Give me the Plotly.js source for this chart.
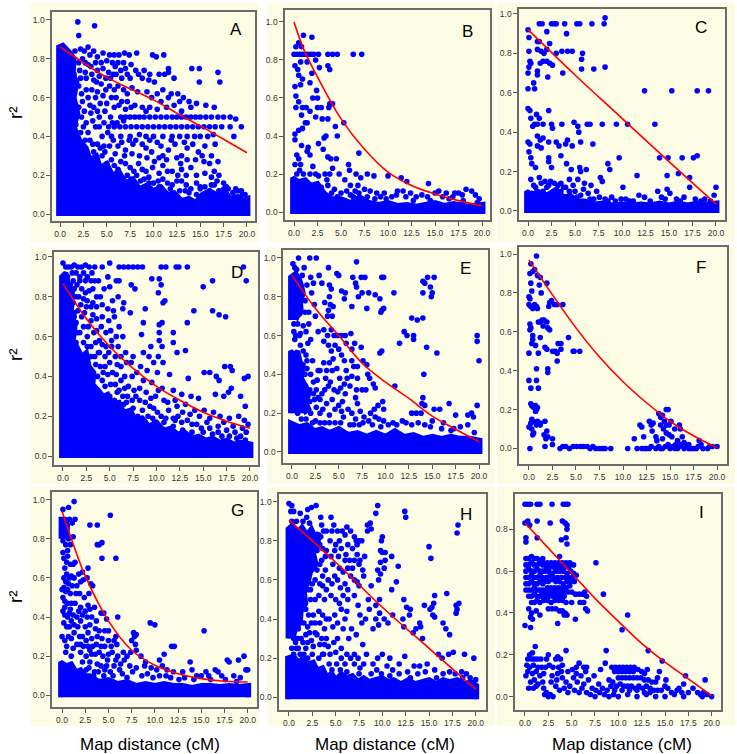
<!DOCTYPE html>
<html><head><meta charset="utf-8">
<script src="https://cdn.plot.ly/plotly-3.0.1.min.js"></script>
<style>html,body{margin:0;padding:0;background:#fff}#chart{width:737px;height:754px}</style>
</head><body><div id="chart"></div>
<script>
// ---------- labels / ticks ----------
const xTicks = [0, 2.5, 5, 7.5, 10, 12.5, 15, 17.5, 20];
const yTicks = [0, 0.2, 0.4, 0.6, 0.8, 1.0];
const yTicksI = [0, 0.2, 0.4, 0.6, 0.8];
const panelLetters = ['A','B','C','D','E','F','G','H','I'];
const xLabel = 'Map distance (cM)';
const yLabel = 'r²';

// ---------- fitted curves ----------
const A_fitX = [0,2.5,5,7.5,10,12.5,15,17.5,20];
const A_fitY = [0.862,0.78,0.704,0.645,0.588,0.52,0.454,0.385,0.316];
const B_fitX = [0,1,2.5,5,7.5,10,12.5,15,17.5,20];
const B_fitY = [1.0,0.86,0.71,0.49,0.33,0.21,0.14,0.095,0.06,0.033];
const C_fitX = [0,5,10,15,20];
const C_fitY = [0.92,0.69,0.47,0.25,0.035];
const D_fitX = [0,2.5,5,7.5,10,12.5,15,17.5,20];
const D_fitY = [0.866,0.69,0.55,0.44,0.35,0.28,0.22,0.175,0.14];
const E_fitX = [0,2.5,5,7.5,10,12.5,15,17.5,20];
const E_fitY = [0.91,0.74,0.6,0.457,0.36,0.276,0.185,0.117,0.052];
const F_fitX = [0,2.5,5,7.5,10,12.5,15,17.5,20];
const F_fitY = [0.97,0.79,0.62,0.47,0.343,0.235,0.14,0.065,0.003];
const G_fitX = [0,1,2.5,5,7.5,10,12.5,15,17.5,20];
const G_fitY = [0.94,0.8,0.61,0.38,0.23,0.153,0.11,0.085,0.072,0.068];
const H_fitX = [0,5,10,15,20];
const H_fitY = [0.905,0.69,0.46,0.25,0.04];
const I_fitX = [0,2.5,5,7.5,10,12.5,15,17.5,20];
const I_fitY = [0.83,0.71,0.59,0.47,0.36,0.255,0.165,0.085,0.005];

// ---------- saturated point regions (outline x,y pairs; null,null separates) ----------
const A_dense = [-0.15,-0.01,-0.15,0.86,0.3,0.87,0.7,0.85,1.1,0.83,1.5,0.8,1.4,0.72,1.8,0.68,1.5,0.6,1.9,0.52,1.5,0.45,2.1,0.38,2.8,0.34,3.2,0.28,3.9,0.3,4.3,0.24,5.0,0.26,5.6,0.2,6.3,0.22,7.0,0.16,7.8,0.18,8.5,0.13,9.3,0.15,10.0,0.12,10.8,0.14,11.5,0.1,12.2,0.11,13.0,0.07,13.8,0.08,14.5,0.06,15.2,0.1,16.0,0.12,16.8,0.1,17.5,0.13,18.2,0.08,19.0,0.09,19.6,0.07,20.1,0.08,20.1,-0.01];
const B_dense = [-0.15,-0.01,-0.15,0.18,0.5,0.16,1.2,0.17,1.8,0.14,2.5,0.15,3.2,0.1,4.0,0.07,5,0.07,6,0.05,7,0.08,8,0.05,9,0.04,10,0.05,11,0.035,12,0.04,13,0.03,14,0.04,15,0.05,16,0.035,17,0.045,18.5,0.03,20.1,0.04,20.1,-0.01];
const C_dense = [-0.15,-0.01,-0.15,0.1,0.5,0.08,1,0.1,2,0.08,3,0.11,3.8,0.07,4.5,0.08,5.2,0.05,6,0.05,7,0.035,8,0.04,9,0.03,10,0.035,11,0.03,12,0.035,13,0.03,14,0.04,15,0.03,16,0.04,17,0.03,18,0.04,19,0.035,20.1,0.04,20.1,-0.01];
const D_dense = [-0.15,-0.01,-0.15,0.9,0.3,0.92,0.6,0.86,1.0,0.82,0.9,0.72,1.3,0.66,1.1,0.58,1.6,0.54,2.0,0.5,2.5,0.52,2.8,0.45,3.3,0.42,3.2,0.36,3.8,0.33,4.3,0.3,4.8,0.31,5.3,0.26,6.0,0.27,6.5,0.22,7.2,0.23,7.8,0.18,8.5,0.19,9.2,0.15,10.0,0.17,10.8,0.13,11.5,0.14,12.3,0.11,13.0,0.12,13.8,0.09,14.5,0.1,15.3,0.08,16.0,0.09,16.8,0.07,17.5,0.08,18.3,0.06,19.0,0.07,20.1,0.06,20.1,-0.01];
const E_dense = [-0.15,-0.01,-0.15,0.15,0.8,0.13,1.6,0.14,2.4,0.11,3.2,0.12,4.0,0.1,5,0.12,6,0.09,7,0.1,8,0.08,9,0.1,10,0.08,11,0.11,12,0.08,13,0.09,14,0.07,15,0.08,16,0.07,17,0.08,18,0.07,19,0.07,20.1,0.06,20.1,-0.01,null,null,
  -0.15,0.68,-0.15,0.9,0.4,0.92,0.8,0.89,1.0,0.86,1.2,0.82,0.9,0.77,1.0,0.72,0.6,0.7,0.4,0.68,null,null,
  -0.15,0.2,-0.15,0.52,0.3,0.5,0.6,0.52,0.9,0.46,1.2,0.45,1.0,0.38,1.5,0.34,1.8,0.3,1.5,0.25,1.8,0.22,1.2,0.2];
const F_dense = [];
const G_dense = [-0.15,-0.01,-0.15,0.17,0.5,0.15,1,0.16,1.5,0.12,2,0.13,2.5,0.1,3,0.1,4,0.07,5,0.08,6,0.06,7,0.07,8,0.05,9,0.06,10,0.05,11,0.06,12,0.05,13,0.05,14,0.04,15,0.05,16,0.05,17,0.045,18,0.05,19,0.045,20.1,0.05,20.1,-0.01,null,null,
  -0.1,0.8,-0.1,0.9,0.3,0.9,0.6,0.87,0.5,0.8];
const H_dense = [-0.15,-0.01,-0.15,0.2,0.5,0.21,1.0,0.18,1.5,0.2,2.0,0.17,2.6,0.18,3.0,0.14,3.6,0.15,4.0,0.11,4.6,0.12,5.0,0.09,5.6,0.12,6.2,0.1,6.8,0.11,7.4,0.08,8.0,0.1,8.6,0.08,9.2,0.09,10.0,0.1,10.6,0.08,11.2,0.09,12.0,0.07,12.8,0.09,13.5,0.07,14.2,0.08,15.0,0.09,15.8,0.07,16.5,0.09,17.2,0.08,18.0,0.09,18.8,0.07,19.5,0.08,20.1,0.06,20.1,-0.01,null,null,
  -0.1,0.3,-0.1,0.86,0.4,0.88,0.9,0.84,1.4,0.87,1.9,0.83,2.4,0.86,2.8,0.82,3.2,0.84,3.1,0.77,2.6,0.74,2.9,0.68,2.3,0.64,2.0,0.58,1.6,0.55,1.8,0.48,1.3,0.44,1.2,0.38,0.7,0.35,0.4,0.3];
const I_dense = [];

// ---------- scattered points (x,y pairs) ----------
const A_pts = [1.9,0.99,2.0,0.92,3.7,0.97,
2.6,0.84,3.2,0.82,4.0,0.81,4.6,0.83,5.3,0.82,5.8,0.82,6.3,0.82,6.9,0.83,7.4,0.82,8.2,0.83,9.9,0.82,10.3,0.81,11.1,0.82,
3.3,0.76,4.0,0.74,4.6,0.75,5.2,0.73,5.9,0.76,6.5,0.74,7.0,0.75,8.1,0.74,9.0,0.74,11.6,0.75,11.6,0.73,14.1,0.75,14.9,0.75,16.9,0.73,
11.2,0.72,10.1,0.68,9.5,0.69,11.0,0.64,11.9,0.62,14.9,0.68,17.1,0.68,13.2,0.60,13.8,0.58,12.6,0.62,8.8,0.70,7.5,0.70,7.7,0.65,8.3,0.63,9.3,0.63,10.4,0.62,6.2,0.66,5.3,0.66,4.4,0.67,3.6,0.69,2.8,0.7,2.8,0.64,3.0,0.6,3.8,0.6,4.6,0.61,5.5,0.6,6.0,0.6,6.6,0.58,7.2,0.58,8.0,0.56,8.8,0.55,9.6,0.55,10.4,0.54,11.4,0.55,12.2,0.56,13.0,0.53,
6.5,0.5,7,0.5,7.5,0.5,8,0.5,8.5,0.5,9,0.5,9.6,0.5,10.2,0.5,10.8,0.5,11.4,0.5,12,0.5,12.5,0.5,13,0.5,13.5,0.5,14,0.5,14.5,0.5,15,0.5,15.6,0.5,16.2,0.5,16.9,0.5,17.5,0.5,18.2,0.5,18.8,0.49,
5.2,0.45,5.8,0.45,6.4,0.45,7,0.45,7.6,0.45,8.2,0.45,8.8,0.45,9.4,0.45,10,0.45,10.6,0.45,11.2,0.45,11.8,0.45,12.4,0.45,13,0.45,13.6,0.45,14.2,0.45,14.8,0.45,15.4,0.45,16,0.45,16.6,0.45,17.3,0.45,18.2,0.45,19.4,0.45,
4.5,0.4,5.5,0.4,6.5,0.4,7.5,0.4,8.5,0.41,9.2,0.4,10,0.4,11,0.4,12,0.4,12.8,0.4,13.6,0.4,14.4,0.4,15,0.4,15.8,0.4,16.4,0.41,18.6,0.4,
6.2,0.35,7.0,0.33,7.8,0.36,8.5,0.3,9.2,0.34,9.8,0.32,10.4,0.37,11,0.3,11.6,0.33,12.3,0.36,13,0.3,13.6,0.34,14.2,0.36,14.8,0.32,15.5,0.35,16.2,0.3,16.6,0.36,
6.5,0.27,7.5,0.24,8.4,0.26,9.2,0.22,10.1,0.27,11,0.25,12,0.22,12.9,0.26,14,0.24,15.4,0.27,16.5,0.22,16.9,0.27,5.5,0.28,4.5,0.3,13.5,0.2,17.0,0.2,
5.5,0.17,6.8,0.18,8,0.15,9,0.18,10,0.16,11,0.18,12,0.15,13,0.17,14,0.13,15.5,0.14,16.5,0.15,17.5,0.16,18.5,0.11,19.5,0.1,19,0.12,16,0.12,17,0.12,
1.5,0.72,2,0.66,1.8,0.55,2.3,0.5,2.8,0.47,3.3,0.52,3.8,0.45,2.2,0.42,1.8,0.38,2.7,0.38,3.5,0.36,4.2,0.5,4.8,0.53,5.4,0.5,4.3,0.57,3.2,0.56,5.8,0.55,2.0,0.78,2.7,0.78,1.5,0.62,3.9,0.68,4.9,0.7,5.7,0.72,6.6,0.7,6.2,0.78,1.2,0.5,1.3,0.43,2.4,0.58,5.1,0.42,6.1,0.47,3,0.3,4,0.27,1.7,0.25,2.6,0.22,3.5,0.2,4.8,0.23,5.3,0.35,4.3,0.34,1.4,0.8,1.6,0.84,2.2,0.7,1.7,0.46,2.9,0.25,3.8,0.24,5.0,0.26,6.2,0.23,7.2,0.2,8.2,0.2,9.5,0.16,10.6,0.14,11.8,0.13,13.4,0.12,15,0.13,16.2,0.15,18,0.13,17.8,0.1,
2.2,0.85,3.0,0.86,3.6,0.84,2.4,0.8,3.0,0.77,3.8,0.78,4.4,0.78,5.0,0.79,5.6,0.78,6.8,0.78,7.6,0.77,2.1,0.74,2.7,0.73,3.4,0.72,4.2,0.71,5.4,0.7,6.0,0.72,7.2,0.72,8.4,0.72,9.6,0.72,10.6,0.72,12.2,0.7,2.3,0.62,3.4,0.64,4.0,0.63,4.9,0.64,5.8,0.64,6.8,0.64,7.2,0.62,9.8,0.6,10.8,0.58,11.6,0.6,12.8,0.58,14.0,0.55,14.6,0.57,15.6,0.56,16.5,0.55,2.0,0.55,2.6,0.53,3.6,0.55,4.0,0.53,5.0,0.57,6.3,0.56,7.0,0.54,7.6,0.55,9.2,0.53,2.5,0.45,3.0,0.42,3.5,0.48,4.2,0.45,4.7,0.47,5.6,0.47,6.8,0.48,3.2,0.38,4.0,0.36,4.7,0.35,5.7,0.38,6.6,0.37,7.4,0.38,8.1,0.38,8.8,0.36,9.6,0.38,10.8,0.35,11.9,0.38,13.3,0.37,2.3,0.3,3.6,0.32,4.8,0.32,5.9,0.31,6.9,0.3,7.7,0.31,9.3,0.29,10.6,0.29,11.4,0.28,12.5,0.29,13.6,0.28,14.5,0.28,15.2,0.3,16.0,0.26,5.8,0.25,7.0,0.26,7.9,0.22,8.8,0.23,9.9,0.24,10.6,0.21,11.5,0.22,12.6,0.2,13.0,0.23,14.6,0.2,15.5,0.21,16.2,0.19,5.2,0.2,6.4,0.19,7.6,0.18,8.6,0.17,9.5,0.19,10.5,0.17,11.5,0.16,12.5,0.17,13.5,0.15,14.6,0.16,15.0,0.14,16.8,0.17,17.8,0.14,18.8,0.13,19.4,0.12,19.8,0.1,12.8,0.12,13.8,0.11,14.6,0.1,15.6,0.07];

const B_pts = [0.0,0.83,0.3,0.83,0.6,0.83,0.9,0.83,1.2,0.83,1.5,0.83,1.8,0.83,2.1,0.83,2.6,0.83,3.6,0.83,4.1,0.83,4.6,0.83,6.3,0.83,7.2,0.83,
0.2,0.87,0.5,0.89,0.8,0.87,1.0,0.93,1.9,0.92,0.1,0.77,0.4,0.75,0.7,0.79,1.4,0.79,2.3,0.8,2.7,0.76,3.6,0.77,3.8,0.75,0.5,0.72,0.9,0.7,0.7,0.67,1.9,0.73,1.7,0.68,0.1,0.66,2.4,0.64,2.5,0.6,0.2,0.61,0.2,0.55,0.5,0.58,0.9,0.55,1.3,0.55,1.7,0.53,2.0,0.6,2.5,0.55,2.9,0.55,2.3,0.5,3.8,0.57,4.1,0.57,3.7,0.55,0.8,0.51,1.4,0.47,0.9,0.44,0.5,0.43,0.1,0.38,0.1,0.41,1.2,0.47,3.0,0.49,3.6,0.49,4.4,0.45,4.6,0.4,3.4,0.4,3.2,0.39,2.6,0.36,3.1,0.33,5.3,0.47,0.8,0.35,1.5,0.34,1.7,0.3,0.3,0.3,0.5,0.28,0.7,0.25,0.1,0.25,2.0,0.24,3.6,0.29,3.9,0.28,4.5,0.28,6.9,0.31,1.4,0.32,0.6,0.22,2.3,0.2,1.7,0.2,3.3,0.2,4.1,0.23,4.8,0.2,3.8,0.2,5.8,0.25,5.9,0.22,6.6,0.2,7.1,0.18,7.8,0.2,8.5,0.19,10.0,0.19,11.4,0.18,12.0,0.16,14.3,0.15,5.4,0.17,6.0,0.14,6.8,0.14,7.5,0.12,4.3,0.12,5.0,0.1,5.6,0.11,8.1,0.11,9.2,0.08,11.0,0.11,11.6,0.11,10.9,0.09,13.0,0.08,15.0,0.1,15.4,0.11,16.2,0.1,17.1,0.1,17.5,0.1,18.3,0.12,18.9,0.11,19.3,0.09,19.7,0.07,16.5,0.07,18,0.06,12.7,0.06,14.5,0.06,9.8,0.07,8.6,0.07,3.6,0.14,2.9,0.13,6.3,0.08,7.0,0.07,4.0,0.1,3.5,0.17,2.6,0.19,6.5,0.11,
2.8,0.1,3.2,0.08,4.6,0.08,5.4,0.06,6.0,0.09,6.9,0.1,7.8,0.08,8.8,0.1,9.6,0.1,10.4,0.08,11.9,0.08,12.4,0.1,13.6,0.09,14.2,0.08,15.8,0.08,16.9,0.08,17.9,0.09,19.5,0.05,0.3,0.2,1.0,0.2,0.4,0.12,1.5,0.14];

const C_pts = [1.2,0.95,1.5,0.95,2.5,0.95,2.8,0.95,3.0,0.95,3.9,0.95,5.2,0.95,5.5,0.95,6.8,0.95,8.1,0.95,8.2,0.98,
0.0,0.92,0.1,0.88,2.0,0.91,4.1,0.9,1.0,0.86,1.2,0.86,2.3,0.85,0.1,0.81,1.0,0.82,1.4,0.81,1.7,0.8,2.0,0.82,3.0,0.8,3.6,0.81,4.2,0.81,4.7,0.81,5.8,0.8,5.7,0.77,0.2,0.76,0.3,0.75,0.1,0.73,1.3,0.75,1.6,0.76,2.0,0.76,2.3,0.75,2.6,0.74,0.0,0.7,1.0,0.71,1.0,0.69,2.1,0.68,3.7,0.7,5.7,0.72,7.0,0.72,8.2,0.73,0.6,0.65,0.7,0.62,0.0,0.62,0.0,0.52,0.2,0.51,2.2,0.51,0.9,0.49,1.2,0.47,0.3,0.47,0.5,0.43,0.7,0.44,1.0,0.44,1.6,0.44,2.5,0.44,3.6,0.44,4.9,0.45,5.3,0.43,6.3,0.44,6.6,0.44,7.9,0.44,9.4,0.44,10.6,0.44,13.5,0.44,12.4,0.61,15.3,0.61,18.0,0.61,19.2,0.61,2.6,0.42,5.4,0.4,0.0,0.35,0.2,0.34,1.0,0.38,1.3,0.36,1.6,0.37,1.0,0.33,1.4,0.32,2.2,0.35,3.0,0.35,3.3,0.33,4.0,0.34,4.2,0.36,4.7,0.33,5.6,0.35,6.9,0.34,0.1,0.3,0.3,0.27,0.4,0.24,2.2,0.27,2.2,0.25,2.5,0.22,3.5,0.28,4.1,0.24,4.6,0.21,5.5,0.22,5.6,0.2,6.2,0.21,8.5,0.24,8.7,0.21,9.7,0.27,14.0,0.27,14.9,0.27,16.4,0.27,17.6,0.27,18.0,0.28,11.6,0.18,14.8,0.18,16.0,0.19,17.2,0.17,0.8,0.22,1.2,0.17,0.3,0.16,1.8,0.15,2.4,0.15,2.8,0.14,3.5,0.14,4.4,0.16,5.3,0.16,6.7,0.13,7.7,0.17,7.9,0.15,5.9,0.11,6.4,0.09,7.3,0.1,8.9,0.07,9.9,0.06,10.8,0.05,10.1,0.12,11.8,0.08,12.4,0.07,13.8,0.1,14.2,0.07,14.8,0.11,15.1,0.09,15.8,0.06,16.6,0.07,17.2,0.12,18.4,0.05,19.8,0.08,20.0,0.12,3.2,0.13,4.0,0.12,2.0,0.12,0.6,0.13,5.0,0.1,7.0,0.06,8.2,0.06,
0.4,0.09,1.6,0.1,2.6,0.09,3.5,0.1,4.4,0.1,5.2,0.07,5.6,0.08,6.6,0.06,7.6,0.07,8.5,0.05,9.3,0.05,10.4,0.06,11.2,0.05,13.0,0.05,14.6,0.06,16.2,0.05,17.8,0.06,18.8,0.06,19.4,0.05,0.8,0.12,1.4,0.14,2.2,0.13,3.8,0.12,4.8,0.13,6.0,0.14];

const D_pts = [0.0,0.97,0.3,0.95,0.6,0.95,0.9,0.95,1.2,0.96,1.6,0.95,2.0,0.95,2.4,0.96,2.8,0.95,3.4,0.95,4.2,0.95,5.0,0.97,6.0,0.95,6.5,0.95,7.0,0.95,7.5,0.95,8.0,0.95,8.5,0.95,10.5,0.95,11.0,0.95,12.1,0.95,12.4,0.95,13.3,0.95,19.3,0.95,
0.5,0.9,1.1,0.88,2.4,0.88,3.0,0.88,3.4,0.88,3.8,0.88,4.8,0.9,5.7,0.88,6.0,0.88,9.5,0.89,10.3,0.89,10.5,0.86,15.0,0.85,16.0,0.88,19.6,0.88,1.5,0.86,2.0,0.84,2.8,0.83,4.0,0.8,7.3,0.86,7.7,0.84,10.2,0.82,10.7,0.77,10.9,0.78,1.4,0.8,2.2,0.79,3.2,0.77,6.5,0.77,5.3,0.78,4.8,0.74,2.5,0.75,3.0,0.75,1.6,0.73,2.0,0.7,6.4,0.74,5.4,0.73,5.5,0.7,7.2,0.72,8.8,0.74,14.0,0.73,16.0,0.73,16.7,0.71,17.4,0.7,3.6,0.69,1.4,0.67,2.7,0.65,4.9,0.68,6.0,0.65,8.6,0.67,10.3,0.66,10.6,0.67,13.3,0.67,3.6,0.63,4.6,0.62,5.7,0.6,2.6,0.6,1.8,0.62,8.4,0.61,10.3,0.62,11.8,0.62,3.9,0.58,4.6,0.55,5.9,0.55,6.7,0.52,7.5,0.5,8.6,0.52,9.4,0.55,10.3,0.58,10.6,0.55,13.1,0.53,11.8,0.57,12.2,0.52,9.2,0.5,10.2,0.5,10.7,0.47,9.7,0.47,7.3,0.47,8.3,0.45,6.2,0.45,5.0,0.47,4.0,0.45,5.3,0.42,6.6,0.4,7.9,0.42,9.0,0.43,10.1,0.42,11.4,0.41,13.4,0.39,15.1,0.42,15.7,0.42,16.4,0.4,16.7,0.38,17.3,0.45,17.9,0.45,18.1,0.43,19.4,0.39,19.8,0.4,4.2,0.38,5.6,0.36,7.0,0.35,8.2,0.34,9.5,0.37,10.6,0.34,11.8,0.33,12.7,0.31,13.7,0.3,14.5,0.29,16.3,0.31,17.2,0.3,17.7,0.32,18.0,0.34,19.0,0.3,19.5,0.25,3.7,0.33,5.0,0.3,6.4,0.3,7.4,0.28,8.8,0.27,9.9,0.3,11.2,0.27,12.2,0.25,13.1,0.26,14.1,0.23,15.1,0.23,16.1,0.22,16.8,0.2,17.8,0.19,18.8,0.2,19.4,0.18,6.9,0.22,8.0,0.2,9.1,0.2,10.1,0.22,11.0,0.19,12.3,0.2,13.3,0.18,14.3,0.16,15.4,0.17,16.6,0.15,17.5,0.13,18.4,0.12,19.6,0.12,8.5,0.15,9.8,0.17,10.8,0.13,11.8,0.15,12.8,0.13,13.8,0.12,15.0,0.12,16.0,0.11,17.0,0.1,19.0,0.1,3.0,0.55,2.2,0.57,0.8,0.75,1.0,0.6,4.5,0.5,3.4,0.5,2.4,0.47,1.2,0.72,0.9,0.82,1.8,0.9,4.3,0.42,5.8,0.32,6.8,0.27,3.9,0.52,5.2,0.55,6.2,0.5,7.8,0.3,9.3,0.25,10.5,0.2,12,0.18,
1.0,0.92,1.4,0.92,1.8,0.88,2.2,0.92,2.6,0.9,3.1,0.92,0.8,0.86,1.2,0.84,1.7,0.8,2.4,0.82,3.2,0.84,3.6,0.8,4.4,0.84,5.0,0.85,1.1,0.77,1.9,0.76,2.6,0.78,3.6,0.75,4.2,0.76,5.9,0.8,1.2,0.7,2.3,0.72,3.2,0.71,4.2,0.7,1.5,0.62,2.2,0.65,3.0,0.68,3.3,0.62,4.1,0.65,5.1,0.63,1.4,0.57,2.6,0.55,3.5,0.57,4.2,0.56,5.2,0.58,6.4,0.6,1.8,0.47,3.0,0.5,3.8,0.52,4.9,0.52,5.6,0.5,3.5,0.46,4.5,0.45,5.8,0.46,6.8,0.47,3.7,0.4,4.8,0.41,5.7,0.41,6.2,0.38,7.4,0.4,8.6,0.38,4.5,0.35,5.1,0.36,6.0,0.33,6.6,0.34,7.6,0.33,8.9,0.32,10.2,0.33,5.5,0.28,6.9,0.3,8.2,0.28,9.4,0.29,10.8,0.28,12.0,0.28,6.5,0.26,7.5,0.24,8.5,0.23,9.7,0.24,11.3,0.23,12.8,0.22,13.6,0.21,7.3,0.2,8.4,0.19,9.6,0.19,10.8,0.17,11.8,0.19,12.7,0.17,13.8,0.16,14.8,0.14,15.7,0.14,16.6,0.12,17.8,0.1,18.6,0.09,19.5,0.08,14.6,0.2,15.7,0.19,17.2,0.17,18.2,0.15,19.2,0.14,19.8,0.16];

const E_pts = [0.1,0.97,0.7,1.0,1.9,1.0,2.6,1.0,6.9,0.98,3.9,0.95,1.1,0.91,2.9,0.91,4.8,0.92,5.0,0.91,6.5,0.9,7.4,0.9,7.8,0.9,9.6,0.9,9.8,0.9,14.0,0.88,14.5,0.9,14.2,0.87,15.2,0.9,14.8,0.85,14.0,0.82,14.9,0.8,15.0,0.82,2.3,0.87,3.2,0.87,4.0,0.86,6.8,0.87,6.9,0.85,2.1,0.82,4.2,0.84,5.3,0.83,5.7,0.82,7.5,0.82,8.2,0.82,8.9,0.81,10.9,0.82,7.1,0.8,4.0,0.8,5.6,0.79,9.4,0.79,1.4,0.78,2.4,0.76,3.5,0.77,4.1,0.76,4.4,0.75,3.9,0.73,3.8,0.7,4.3,0.7,1.8,0.72,2.5,0.7,6.4,0.75,8.0,0.74,9.6,0.73,9.8,0.74,9.5,0.72,1.2,0.65,1.8,0.66,3.4,0.63,4.5,0.6,4.9,0.6,5.3,0.6,5.7,0.6,6.3,0.61,0.9,0.61,0.3,0.58,1.7,0.56,3.9,0.55,4.6,0.55,5.0,0.53,4.2,0.52,5.8,0.56,6.7,0.56,6.4,0.53,5.3,0.5,4.4,0.48,4.0,0.46,5.6,0.47,6.4,0.47,7.4,0.54,7.6,0.47,8.0,0.45,9.4,0.51,9.6,0.52,11.5,0.56,12.0,0.62,12.3,0.6,13.0,0.6,13.0,0.58,12.8,0.69,13.4,0.68,14.0,0.69,14.4,0.54,15.5,0.51,19.8,0.6,19.8,0.57,20.0,0.47,2.2,0.47,3.0,0.42,1.6,0.43,2.7,0.37,3.6,0.38,4.1,0.36,5.1,0.38,5.9,0.38,6.4,0.39,7.0,0.38,8.1,0.4,8.3,0.38,8.7,0.35,8.9,0.33,11.0,0.34,6.2,0.34,3.9,0.34,2.6,0.32,3.2,0.3,4.9,0.31,5.7,0.3,6.9,0.32,7.5,0.32,7.9,0.32,6.8,0.28,5.4,0.26,4.3,0.27,3.0,0.27,2.3,0.3,2.6,0.23,3.7,0.25,5.0,0.24,6.0,0.22,7.0,0.25,8.8,0.22,9.2,0.24,9.8,0.22,9.7,0.26,14.0,0.28,13.9,0.25,14.2,0.24,14.1,0.4,8.4,0.2,3.0,0.2,4.0,0.19,5.5,0.18,6.8,0.17,7.7,0.18,8.9,0.18,9.3,0.17,12.8,0.2,13.3,0.2,13.8,0.2,15.2,0.22,15.8,0.22,16.8,0.25,17.5,0.19,18.8,0.19,19.2,0.2,19.4,0.18,19.8,0.24,15,0.16,16.2,0.15,17.3,0.12,18,0.13,18.8,0.14,19.5,0.1,14.2,0.14,12.2,0.15,11.2,0.14,10.3,0.14,9.5,0.13,8.6,0.14,0.9,0.55,0.2,0.62,1.5,0.5,1.0,0.38,2.0,0.4,1.4,0.3,1.9,0.26,0.6,0.2,1.0,0.17,2.5,0.16,3.5,0.15,4.6,0.15,6.2,0.14,7.2,0.14,1.4,0.72,0.6,0.66,0.2,0.66,
1.4,0.4,2.3,0.36,2.8,0.42,3.4,0.46,1.9,0.32,2.8,0.28,3.5,0.32,4.5,0.32,5.2,0.33,5.6,0.35,2.0,0.2,2.4,0.27,3.3,0.22,4.6,0.22,5.3,0.21,6.4,0.2,7.3,0.21,1.5,0.17,2.2,0.15,3.0,0.15,4.0,0.15,5.2,0.15,6.6,0.14,7.6,0.15,8.2,0.16,9.8,0.16,10.8,0.15,11.8,0.16,12.8,0.14,13.5,0.15,14.8,0.13,16.0,0.12,17.0,0.11,2.0,0.58,2.8,0.62,1.5,0.62,0.3,0.95,0.5,0.94,1.3,0.95,1.6,0.86,2.0,0.9,1.2,0.52,1.6,0.47,0.8,0.6,0.4,0.6,3.8,0.6,4.2,0.63,3.4,0.57,6.6,0.44,7.0,0.44,5.8,0.42,4.8,0.43,4.3,0.42,3.7,0.42];

const F_pts = [0.8,0.99,0.1,0.9,0.2,0.95,0.4,0.91,0.6,0.92,0.9,0.89,1.2,0.88,1.1,0.84,1.3,0.8,1.9,0.85,0.0,0.78,0.1,0.77,0.2,0.85,0.3,0.81,0.0,0.74,0.2,0.73,0.4,0.72,0.6,0.74,0.8,0.73,0.9,0.72,2.2,0.75,2.4,0.76,2.7,0.74,3.0,0.74,3.6,0.74,2.1,0.73,0.1,0.64,0.2,0.62,0.4,0.58,0.4,0.56,0.3,0.54,0.7,0.53,0.1,0.61,1.0,0.65,1.2,0.65,1.4,0.66,1.6,0.66,1.9,0.65,1.5,0.63,2.0,0.62,2.2,0.61,1.2,0.57,1.7,0.52,1.9,0.51,2.5,0.5,2.8,0.5,3.0,0.49,3.1,0.54,3.4,0.54,3.4,0.51,4.2,0.57,4.7,0.5,4.8,0.5,5.4,0.5,3.0,0.45,1.0,0.49,0.0,0.49,0.8,0.41,2.0,0.41,2.0,0.39,0.0,0.35,0.8,0.35,0.2,0.31,1.0,0.31,0.2,0.23,0.3,0.22,0.5,0.21,0.7,0.22,0.8,0.2,0.9,0.21,0.7,0.19,0.3,0.15,0.4,0.14,0.2,0.13,0.0,0.11,0.3,0.1,0.5,0.08,0.4,0.07,0.8,0.12,0.9,0.14,1.2,0.13,1.2,0.12,1.7,0.14,1.9,0.09,1.6,0.07,1.8,0.05,2.0,0.06,2.5,0.05,2.5,0.02,1.7,0.01,0.1,0.0,
3.3,0.0,3.6,0.01,3.9,0.01,4.3,0.0,4.7,0.01,5.1,0.01,5.5,0.01,5.8,0.01,6.2,0.01,6.5,0.0,6.8,0.01,7.1,0.0,7.5,0.0,7.8,0.0,8.1,0.0,8.7,0.0,10.5,0.0,
11.2,0.05,11.8,0.12,12.0,0.11,12.2,0.06,12.8,0.14,13.0,0.12,13.2,0.13,13.5,0.06,13.1,0.09,13.8,0.18,14.0,0.16,14.2,0.17,14.4,0.14,14.6,0.2,14.8,0.2,14.0,0.12,14.3,0.1,14.6,0.12,14.9,0.12,15.1,0.14,14.6,0.08,14.9,0.07,15.2,0.06,14.2,0.05,13.6,0.04,15.5,0.1,15.8,0.04,16.0,0.12,16.1,0.1,16.3,0.06,16.5,0.03,17.0,0.02,18.1,0.04,
11.5,0.0,12.0,0.0,12.5,0.0,13.0,0.01,13.5,0.0,14.0,0.0,14.5,0.01,15.0,0.0,15.5,0.0,16.0,0.01,16.5,0.0,17.0,0.0,17.5,0.0,18.0,0.01,18.5,0.0,19.0,0.0,19.5,0.01,20.0,0.01,12.3,0.0,13.8,0.01,15.3,0.01,16.8,0.01,18.3,0.02,19.2,0.01,12.8,0.0,14.2,0.0,15.8,0.0,17.2,0.0,16.2,0.02,15.6,0.02,14.8,0.02,17.8,0.0];

const G_pts = [0.1,0.95,0.7,0.96,1.3,0.99,5.2,0.92,1.1,0.88,1.4,0.9,3.0,0.87,3.8,0.87,1.2,0.81,3.8,0.77,4.0,0.77,4.3,0.78,4.3,0.7,5.8,0.7,0.6,0.74,0.1,0.73,0.2,0.7,0.5,0.68,0.9,0.67,1.2,0.67,1.4,0.68,0.8,0.6,1.0,0.61,2.2,0.63,2.8,0.65,2.7,0.6,2.0,0.58,2.3,0.59,3.1,0.57,3.3,0.56,1.1,0.56,1.6,0.56,0.0,0.54,0.2,0.55,0.4,0.53,0.6,0.54,0.9,0.52,1.5,0.52,1.9,0.52,2.4,0.5,2.9,0.52,0.1,0.5,0.3,0.48,0.6,0.47,1.0,0.47,1.4,0.47,2.0,0.45,2.8,0.46,3.0,0.44,3.5,0.45,0.1,0.43,0.3,0.41,0.6,0.4,0.8,0.42,1.2,0.41,1.6,0.4,2.2,0.41,2.7,0.4,3.2,0.4,3.7,0.38,4.2,0.42,4.5,0.42,4.8,0.39,6.0,0.4,9.5,0.37,10.0,0.36,15.3,0.33,0.2,0.37,0.5,0.35,0.8,0.35,1.3,0.36,1.7,0.35,2.5,0.35,3.0,0.36,3.6,0.34,4.0,0.33,4.6,0.33,5.0,0.33,0.0,0.3,0.3,0.28,0.7,0.3,1.0,0.29,2.2,0.3,2.6,0.28,3.2,0.29,3.8,0.3,4.3,0.29,5.0,0.28,5.6,0.28,5.8,0.3,1.6,0.26,2.3,0.25,2.8,0.25,3.3,0.25,3.7,0.26,4.6,0.25,5.3,0.25,5.9,0.26,7.7,0.32,7.8,0.3,8.0,0.31,7.5,0.28,7.9,0.26,7.4,0.22,8.0,0.23,2.0,0.22,2.6,0.2,3.2,0.21,3.6,0.21,4.0,0.22,4.4,0.2,5.0,0.21,5.4,0.22,6.0,0.2,6.7,0.18,7.0,0.2,8.5,0.2,9.0,0.17,10.5,0.18,11.0,0.21,11.8,0.25,12.1,0.25,2.2,0.17,3.0,0.17,3.8,0.16,4.2,0.15,4.8,0.15,5.6,0.15,6.3,0.16,7.3,0.15,8.0,0.14,8.9,0.15,9.6,0.14,10.2,0.13,10.8,0.15,11.3,0.13,12.0,0.12,13.0,0.12,13.8,0.17,14.0,0.13,15.0,0.1,15.5,0.12,16.5,0.13,16.8,0.12,17.8,0.18,18.0,0.17,19.0,0.18,19.6,0.2,19.8,0.13,20.0,0.13,18.5,0.1,17.2,0.1,14.5,0.1,13.2,0.09,11.7,0.09,10.5,0.1,9.2,0.11,6.5,0.11,5.5,0.1,7.0,0.09,16,0.08,19.2,0.09,0.3,0.85,0.5,0.82,0.2,0.83,0.1,0.79,0.4,0.77,0.8,0.9,1.5,0.12,2.6,0.13,3.5,0.12,4.5,0.1,1.0,0.2,0.4,0.22,0.2,0.6,0.5,0.62,
0.4,0.58,0.7,0.57,1.3,0.6,1.8,0.62,0.3,0.45,0.9,0.44,1.8,0.43,2.5,0.43,1.0,0.38,2.0,0.38,2.8,0.32,1.9,0.3,1.3,0.32,0.5,0.25,1.2,0.24,2.0,0.26,3.0,0.23,4.2,0.25,4.9,0.18,5.8,0.18,6.6,0.22,6.2,0.13,7.6,0.12,8.6,0.1,9.8,0.09,11.2,0.1,12.6,0.08,14.2,0.08,15.8,0.1,17.6,0.08,18.8,0.07,1.0,0.12,0.5,0.15,2.9,0.14,3.9,0.12,4.6,0.13,5.2,0.12,3.4,0.1,0.3,0.65,0.7,0.8,0.9,0.77,0.6,0.71];

const H_pts = [0.0,0.99,0.3,0.98,0.2,0.95,0.5,0.95,1.2,0.94,1.9,0.92,2.0,0.96,2.4,0.97,2.9,0.98,3.4,0.92,4.5,0.92,3.5,0.88,2.2,0.89,4.0,0.85,5.2,0.85,5.7,0.85,6.0,0.83,6.6,0.85,7.2,0.8,7.5,0.8,7.8,0.8,8.4,0.88,8.7,0.89,8.8,0.86,9.3,0.94,9.5,0.98,10.0,0.82,9.9,0.8,8.4,0.85,12.4,0.95,12.5,0.92,18.1,0.88,18.0,0.84,4.4,0.8,5.0,0.78,5.6,0.76,6.1,0.73,6.8,0.76,7.3,0.73,6.5,0.7,7.0,0.7,7.6,0.7,4.0,0.75,3.5,0.7,3.9,0.72,4.7,0.68,5.4,0.66,5.8,0.64,6.3,0.66,7.5,0.68,7.9,0.65,9.8,0.75,10.0,0.74,10.3,0.74,9.8,0.69,10.3,0.7,9.5,0.65,9.8,0.63,10.2,0.66,11.0,0.72,11.7,0.67,15.0,0.77,15.2,0.71,3.0,0.65,3.6,0.62,4.2,0.6,4.6,0.58,5.2,0.6,6.0,0.58,6.6,0.62,7.3,0.59,7.5,0.57,8.8,0.57,9.6,0.6,3.6,0.57,4.0,0.55,3.2,0.52,4.5,0.52,5.4,0.48,6.3,0.5,7.0,0.52,7.4,0.47,5.6,0.45,6.2,0.44,4.9,0.42,4.3,0.4,4.0,0.4,3.6,0.42,2.6,0.42,2.8,0.38,2.0,0.36,1.6,0.38,1.0,0.35,0.3,0.35,2.2,0.33,3.0,0.32,3.5,0.3,4.0,0.3,2.4,0.29,1.5,0.28,0.7,0.28,0.3,0.25,1.0,0.25,1.8,0.25,2.6,0.26,3.3,0.27,3.8,0.27,4.4,0.22,5.0,0.23,5.6,0.2,6.2,0.22,6.6,0.2,7.0,0.22,7.4,0.2,5.6,0.25,6.4,0.3,6.7,0.35,7.6,0.42,8.2,0.4,9.0,0.35,9.3,0.4,9.6,0.37,9.7,0.43,9.3,0.47,9.7,0.5,10.2,0.4,10.6,0.38,11.1,0.42,11.5,0.59,11.0,0.55,12.3,0.5,12.6,0.46,12.2,0.4,12.9,0.42,13.0,0.45,12.3,0.36,13.3,0.33,13.6,0.35,14.0,0.38,14.1,0.36,14.5,0.47,15.1,0.45,15.3,0.46,15.6,0.52,15.5,0.48,15.4,0.42,15.6,0.41,16.5,0.38,16.8,0.35,17.2,0.32,16.9,0.53,17.9,0.47,18.0,0.45,18.2,0.48,17.9,0.43,14.3,0.3,16.0,0.22,16.4,0.2,17.1,0.22,17.6,0.23,18.8,0.22,19.8,0.2,10.0,0.22,9.5,0.2,10.8,0.2,12.4,0.21,11.8,0.17,14.0,0.16,14.8,0.17,13.4,0.16,8.0,0.17,7.0,0.17,8.8,0.12,9.4,0.14,11.1,0.14,12.7,0.13,16.5,0.12,17.2,0.13,18.5,0.13,19.0,0.12,19.4,0.1,20.0,0.09,13.0,0.1,15.8,0.1,4.6,0.14,5.5,0.14,6.2,0.13,7.5,0.12,3.2,0.2,2.5,0.22,0.5,0.3,1.8,0.45,2.3,0.5,2.5,0.58,1.2,0.55,3.0,0.75,2.6,0.7,3.4,0.82,1.3,0.66,0.9,0.48,1.6,0.6,2.0,0.55,3.8,0.35,4.8,0.28,2.0,0.2,1.2,0.22,4.3,0.17,3.6,0.22,
0.3,0.9,0.8,0.9,1.5,0.9,3.7,0.85,3.3,0.78,3.6,0.76,4.5,0.72,3.3,0.68,3.9,0.65,2.8,0.6,3.3,0.58,2.3,0.55,2.8,0.5,3.8,0.5,2.1,0.42,3.2,0.44,2.4,0.38,3.3,0.38,1.8,0.32,2.8,0.33,0.9,0.3,1.3,0.3,2.0,0.28,1.6,0.22,0.5,0.22,0.8,0.25,3.7,0.22,4.2,0.26,5.2,0.3,5.8,0.35,5.2,0.38,4.7,0.36,6.0,0.4,5.0,0.5,5.8,0.52,5.5,0.56,6.3,0.55,7.0,0.6,8.0,0.62,6.8,0.66,4.9,0.62,6.0,0.7,5.3,0.72,4.9,0.75,6.3,0.78,7.0,0.82,5.4,0.8,4.6,0.85,4.8,0.88,6.2,0.87,7.3,0.78,8.1,0.72,8.5,0.5,8.6,0.45,7.8,0.38,7.2,0.32,7.9,0.27,8.3,0.22,6.0,0.17,5.1,0.17,7.6,0.15,9.0,0.17,10.5,0.16,11.8,0.12,13.8,0.12,14.6,0.13,15.6,0.14,17.8,0.12,18.6,0.1,9.9,0.12,10.8,0.11];

const I_pts = [0.0,0.92,0.3,0.92,0.6,0.92,1.3,0.92,1.6,0.92,2.9,0.92,4.1,0.92,4.4,0.92,4.6,0.92,
0.0,0.83,0.3,0.84,0.5,0.82,1.3,0.84,2.7,0.83,4.0,0.84,4.3,0.83,4.5,0.82,4.5,0.8,0.1,0.76,0.1,0.74,1.3,0.76,3.9,0.75,4.4,0.76,4.5,0.73,3.7,0.67,
0.1,0.66,0.4,0.66,0.7,0.67,1.0,0.66,1.3,0.66,1.6,0.65,1.9,0.66,0.1,0.63,0.4,0.63,0.7,0.64,1.0,0.63,1.3,0.63,1.6,0.64,1.9,0.63,0.1,0.6,0.4,0.61,0.7,0.6,1.0,0.6,1.3,0.61,1.6,0.6,1.9,0.6,0.1,0.57,0.4,0.57,0.7,0.58,1.0,0.57,1.3,0.57,1.6,0.58,1.9,0.57,0.1,0.54,0.4,0.54,0.7,0.55,1.0,0.54,1.3,0.54,1.6,0.55,1.9,0.54,0.1,0.51,0.4,0.51,0.7,0.51,1.0,0.52,1.3,0.51,1.6,0.51,1.9,0.51,0.4,0.48,0.7,0.48,1.0,0.49,1.3,0.48,1.6,0.48,1.9,0.48,0.7,0.45,1.0,0.45,1.3,0.46,1.6,0.45,
2.0,0.64,2.4,0.64,2.8,0.64,3.2,0.64,3.6,0.64,4.0,0.64,4.4,0.64,4.8,0.64,5.2,0.63,7.6,0.64,
2.1,0.6,2.5,0.6,2.9,0.59,3.3,0.6,3.7,0.6,4.1,0.6,4.5,0.59,4.9,0.6,5.2,0.59,5.5,0.58,
2.1,0.55,2.5,0.55,2.9,0.56,3.3,0.55,3.7,0.55,4.1,0.54,4.5,0.55,4.9,0.55,5.3,0.55,
1.8,0.5,2.2,0.5,2.6,0.5,3.0,0.5,3.4,0.5,3.8,0.5,4.2,0.5,4.6,0.5,5.0,0.5,5.4,0.49,5.8,0.49,6.2,0.49,6.4,0.5,6.6,0.48,8.4,0.49,4.4,0.52,4.8,0.53,
2.0,0.46,2.4,0.46,2.8,0.45,3.2,0.46,3.6,0.46,4.0,0.46,4.4,0.45,5.0,0.45,5.9,0.45,6.3,0.45,
2.3,0.62,2.7,0.62,3.1,0.62,3.5,0.62,3.9,0.62,4.3,0.62,4.7,0.62,2.3,0.57,2.7,0.58,3.1,0.57,3.5,0.57,3.9,0.57,4.3,0.57,4.7,0.57,5.1,0.57,2.4,0.52,2.8,0.52,3.2,0.52,3.6,0.52,4.0,0.52,2.2,0.48,2.6,0.48,3.0,0.48,3.4,0.48,3.8,0.48,4.2,0.48,
0.4,0.42,0.7,0.4,1.2,0.41,2.5,0.42,2.9,0.42,3.3,0.42,3.7,0.41,4.0,0.41,4.3,0.4,6.5,0.42,6.7,0.41,0.6,0.38,0.8,0.37,1.6,0.39,4.2,0.39,4.5,0.39,3.5,0.35,0.0,0.34,0.6,0.33,5.4,0.37,10.4,0.32,11.0,0.39,
0.5,0.2,0.8,0.21,1.1,0.24,2.5,0.2,3.5,0.19,4.4,0.22,0.3,0.18,0.7,0.18,1.0,0.18,1.3,0.18,1.7,0.18,2.3,0.18,3.3,0.18,3.8,0.18,0.2,0.15,0.5,0.14,0.9,0.15,1.4,0.14,1.8,0.14,2.2,0.14,2.6,0.15,3.0,0.14,3.6,0.14,4.0,0.15,0.3,0.12,0.8,0.11,1.2,0.12,1.6,0.1,2.0,0.11,2.9,0.1,3.5,0.11,3.9,0.12,4.6,0.12,5.1,0.13,5.5,0.14,5.8,0.16,6.3,0.14,6.6,0.14,0.1,0.1,0.6,0.07,1.0,0.08,1.4,0.06,1.9,0.07,2.8,0.07,3.4,0.08,4.0,0.09,4.4,0.07,4.8,0.05,5.2,0.09,5.6,0.07,6.0,0.1,6.5,0.12,0.4,0.04,0.9,0.04,1.2,0.05,2.0,0.04,2.3,0.02,2.5,0.0,2.7,0.01,3.0,0.0,4.2,0.04,4.6,0.02,5.3,0.03,5.8,0.02,6.1,0.04,6.6,0.02,7.0,0.01,7.5,0.0,8.0,0.02,8.5,0.01,9.0,0.0,9.5,0.01,10.0,0.0,11.0,0.01,12.0,0.0,13.0,0.01,14.0,0.0,15.0,0.0,16.0,0.01,17.0,0.0,17.5,0.02,19.0,0.0,19.5,0.01,20.0,0.0,19.1,0.02,19.3,0.08,18.0,0.04,17.2,0.1,17.0,0.06,16.5,0.04,15.3,0.04,15.1,0.08,15.0,0.05,14.7,0.17,14.6,0.03,14.2,0.03,13.8,0.03,13.4,0.04,13.2,0.22,
9.3,0.14,9.7,0.14,10.1,0.14,10.5,0.14,10.9,0.14,11.3,0.14,11.7,0.14,12.1,0.13,12.5,0.12,9.6,0.12,10.0,0.12,10.4,0.12,10.8,0.12,11.2,0.12,11.6,0.12,12.8,0.11,13.1,0.13,10.0,0.09,10.4,0.09,10.8,0.09,11.2,0.09,11.6,0.09,12.0,0.09,12.4,0.09,12.8,0.08,13.2,0.08,9.0,0.08,9.4,0.07,8.6,0.16,8.7,0.22,9.2,0.05,9.8,0.05,10.2,0.06,10.6,0.05,11.0,0.05,11.4,0.05,11.8,0.04,12.2,0.05,12.6,0.04,13.0,0.05,13.6,0.07,14.0,0.07,7.2,0.04,7.6,0.03,7.9,0.06,8.3,0.04,8.8,0.03,9.6,0.03,10.4,0.03,11.2,0.03,12.0,0.03,12.8,0.02,13.4,0.02,6.3,0.06,6.8,0.08,7.4,0.1,5.5,0.11,3.3,0.05,3.7,0.03,2.1,0.01,8.1,0.13,14.4,0.12,14.2,0.09,15.7,0.02,16.3,0.03,16.8,0.02,18.5,0.02,18.8,0.01];

// ---------- geometry (pixels in the 737x754 picture) ----------
const W = 737, H = 754;
const panels = [
  {pts:A_pts, dense:A_dense, fx:A_fitX, fy:A_fitY, box:[52,255,12,221], xr:[-0.86,20.86], yr:[-0.036,1.041], bg:[30,259,3,242], lab:[236,30], yt:yTicks},
  {pts:B_pts, dense:B_dense, fx:B_fitX, fy:B_fitY, box:[285,490,10,220], xr:[-0.96,20.85], yr:[-0.042,1.063], bg:[267,495,3,242], lab:[467,31], yt:yTicks},
  {pts:C_pts, dense:C_dense, fx:C_fitX, fy:C_fitY, box:[519,725,9,220], xr:[-0.96,20.96], yr:[-0.046,1.025], bg:[497,735,3,242], lab:[701,27], yt:yTicks},
  {pts:D_pts, dense:D_dense, fx:D_fitX, fy:D_fitY, box:[54,258,252,465], xr:[-0.96,20.86], yr:[-0.045,1.025], bg:[30,259,247,484], lab:[237,273], yt:yTicks},
  {pts:E_pts, dense:E_dense, fx:E_fitX, fy:E_fitY, box:[283,488,250,463], xr:[-0.96,20.96], yr:[-0.057,1.041], bg:[267,495,247,484], lab:[465,268], yt:yTicks},
  {pts:F_pts, dense:F_dense, fx:F_fitX, fy:F_fitY, box:[519,727,247,464], xr:[-1.06,21.06], yr:[-0.08,1.036], bg:[497,735,247,484], lab:[701,267], yt:yTicks},
  {pts:G_pts, dense:G_dense, fx:G_fitX, fy:G_fitY, box:[52,257,492,707], xr:[-1.08,21.0], yr:[-0.06,1.039], bg:[30,259,487,726], lab:[238,510], yt:yTicks},
  {pts:H_pts, dense:H_dense, fx:H_fitX, fy:H_fitY, box:[279,486,494,710], xr:[-1.07,21.1], yr:[-0.065,1.039], bg:[267,495,487,726], lab:[466,514], yt:yTicks},
  {pts:I_pts, dense:I_dense, fx:I_fitX, fy:I_fitY, box:[515,721,494,710], xr:[-1.07,21.0], yr:[-0.064,0.969], bg:[497,735,487,726], lab:[701,512], yt:yTicksI}
];
const rowLabelY = [113, 355, 597];
const colLabelX = [150, 385, 622];
const colLabelY = 744;

function split(flat){ const x=[],y=[]; for(let i=0;i<flat.length;i+=2){x.push(flat[i]);y.push(flat[i+1]);} return {x,y}; }
const BLUE = '#0000FF';
const FONT = '"Liberation Sans", Arial, sans-serif';
const data = [], layout = {
  width: W, height: H, margin:{l:0,r:0,t:0,b:0},
  paper_bgcolor:'#ffffff', plot_bgcolor:'#FFFFE6', showlegend:false,
  font:{family:FONT, color:'#000', size:12},
  shapes:[], annotations:[]
};

panels.forEach((p,i)=>{
  const n = i===0 ? '' : String(i+1);
  const xa = 'x'+n, ya = 'y'+n;
  const [l,r,t,b] = p.box;
  const axisStyle = {showline:true, mirror:true, linecolor:'#6b6b6b', linewidth:1.6, ticks:'outside', ticklen:4, tickwidth:1, tickcolor:'#555',
    showgrid:false, zeroline:false, fixedrange:true, tickfont:{size:8.5, color:'#333', family:FONT}};
  layout['xaxis'+n] = Object.assign({}, axisStyle, {domain:[l/W, r/W], range:p.xr, anchor:ya, tickvals:xTicks, ticktext:xTicks.map(v=>v.toFixed(1))});
  layout['yaxis'+n] = Object.assign({}, axisStyle, {domain:[1-b/H, 1-t/H], range:p.yr, anchor:xa, tickvals:p.yt, ticktext:p.yt.map(v=>v.toFixed(1))});
  const [bl,br,bt,bb] = p.bg;
  layout.shapes.push({type:'rect', xref:'paper', yref:'paper', x0:bl/W, x1:br/W, y0:1-bb/H, y1:1-bt/H, fillcolor:'#FCFCE4', line:{width:0}, layer:'below'});
  if (p.dense.length){
    const d = split(p.dense);
    data.push({type:'scatter', mode:'lines', x:d.x, y:d.y, xaxis:xa, yaxis:ya, fill:'toself', fillcolor:BLUE, line:{color:BLUE, width:5}, hoverinfo:'skip', connectgaps:false});
  }
  const s = split(p.pts);
  data.push({type:'scatter', mode:'markers', x:s.x, y:s.y, xaxis:xa, yaxis:ya, marker:{color:BLUE, size:5.6, line:{width:0}}, hoverinfo:'skip'});
  data.push({type:'scatter', mode:'lines', x:p.fx, y:p.fy, xaxis:xa, yaxis:ya, line:{color:'#FF0000', width:1.6, shape:'spline'}, hoverinfo:'skip'});
  layout.annotations.push({xref:'paper', yref:'paper', x:p.lab[0]/W, y:1-p.lab[1]/H, text:panelLetters[i], showarrow:false, xanchor:'center', yanchor:'middle',
    font:{size:17, color:'#000', family:FONT}});
});
rowLabelY.forEach(py=>{
  layout.annotations.push({xref:'paper', yref:'paper', x:15/W, y:1-py/H, text:yLabel, textangle:-90, showarrow:false, xanchor:'center', yanchor:'middle',
    font:{size:19, color:'#000', family:FONT}});
});
colLabelX.forEach(px=>{
  layout.annotations.push({xref:'paper', yref:'paper', x:px/W, y:1-colLabelY/H, text:xLabel, showarrow:false, xanchor:'center', yanchor:'middle',
    font:{size:17, color:'#000', family:FONT}});
});
Plotly.newPlot('chart', data, layout, {staticPlot:true, displayModeBar:false});
</script></body></html>
